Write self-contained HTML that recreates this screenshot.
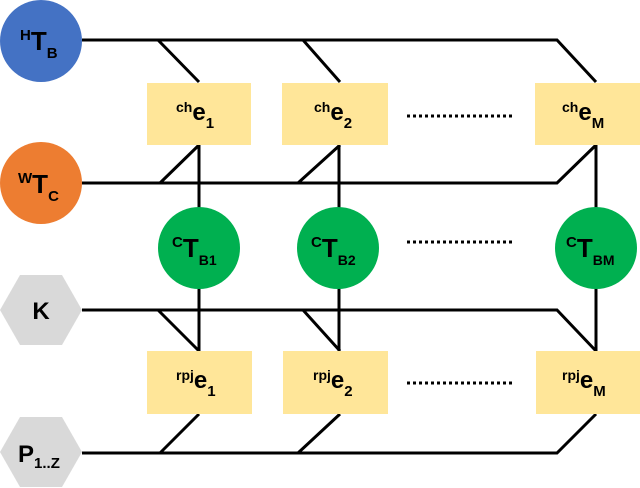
<!DOCTYPE html>
<html><head><style>body{margin:0;background:#fff}svg{display:block}text{font-family:"Liberation Sans",Arial,sans-serif;font-weight:bold;fill:#000}</style></head>
<body>
<svg width="640" height="488" viewBox="0 0 640 488" xmlns="http://www.w3.org/2000/svg">
<g stroke="#000" stroke-width="3" fill="none">
<path d="M82 40 H557 L596 82"/>
<path d="M158 40 L199 82 M303 40 L340 82"/>
<path d="M82 183 H557 L596 145 M160 183 L199 145 M298 183 L340 145"/>
<path d="M82 310 H557 L596 351 M158 310 L199 351 M303 310 L340 351"/>
<path d="M82 453 H557 L596 414 M160 453 L199 414 M298 453 L340 414"/>
<path d="M199 145 V351 M339 145 V351 M596 145 V351"/>
</g>
<g stroke="#000" stroke-width="3" stroke-dasharray="3 3">
<path d="M407 116 H515 M407 242 H515 M407 383 H515"/>
</g>
<circle cx="41" cy="41" r="41" fill="#4472c4"/>
<circle cx="41" cy="183" r="41" fill="#ed7d31"/>
<polygon points="0,310 20,275 62,275 82,310 62,345 20,345" fill="#d9d9d9"/>
<polygon points="0,452 20,417 62,417 82,452 62,487 20,487" fill="#d9d9d9"/>
<g fill="#ffe699">
<rect x="147" y="83" width="104" height="62"/><rect x="282" y="83" width="106" height="62"/><rect x="535" y="83" width="105" height="62"/>
<rect x="147" y="351" width="105" height="63"/><rect x="283" y="351" width="105" height="63"/><rect x="536" y="351" width="104" height="63"/>
</g>
<g fill="#00b050">
<circle cx="199" cy="248" r="41"/><circle cx="338" cy="248" r="41"/><circle cx="596" cy="248" r="41"/>
</g>
<text x="20" y="50" font-size="26"><tspan font-size="15" dy="-10">H</tspan><tspan dy="10">T</tspan><tspan font-size="15" dy="8">B</tspan></text>
<text x="18" y="193" font-size="26"><tspan font-size="15" dy="-10">W</tspan><tspan dy="10">T</tspan><tspan font-size="15" dy="8">C</tspan></text>
<text x="41" y="319" font-size="24" text-anchor="middle">K</text>
<text x="18" y="462" font-size="24">P<tspan font-size="15" dy="6">1..Z</tspan></text>
<text x="176" y="120" font-size="24"><tspan font-size="14" dy="-8">ch</tspan><tspan dy="8">e</tspan><tspan font-size="15" dy="8">1</tspan></text>
<text x="314" y="120" font-size="24"><tspan font-size="14" dy="-8">ch</tspan><tspan dy="8">e</tspan><tspan font-size="15" dy="8">2</tspan></text>
<text x="562" y="120" font-size="24"><tspan font-size="14" dy="-8">ch</tspan><tspan dy="8">e</tspan><tspan font-size="15" dy="8">M</tspan></text>
<text x="176" y="388" font-size="24"><tspan font-size="14" dy="-8">rpj</tspan><tspan dy="8">e</tspan><tspan font-size="15" dy="8">1</tspan></text>
<text x="313" y="388" font-size="24"><tspan font-size="14" dy="-8">rpj</tspan><tspan dy="8">e</tspan><tspan font-size="15" dy="8">2</tspan></text>
<text x="562" y="388" font-size="24"><tspan font-size="14" dy="-8">rpj</tspan><tspan dy="8">e</tspan><tspan font-size="15" dy="8">M</tspan></text>
<text x="172" y="257" font-size="26"><tspan font-size="15" dy="-10">C</tspan><tspan dy="10">T</tspan><tspan font-size="14" dy="8">B1</tspan></text>
<text x="311" y="257" font-size="26"><tspan font-size="15" dy="-10">C</tspan><tspan dy="10">T</tspan><tspan font-size="14" dy="8">B2</tspan></text>
<text x="566" y="257" font-size="26"><tspan font-size="15" dy="-10">C</tspan><tspan dy="10">T</tspan><tspan font-size="14" dy="8">BM</tspan></text>
</svg>
</body></html>
